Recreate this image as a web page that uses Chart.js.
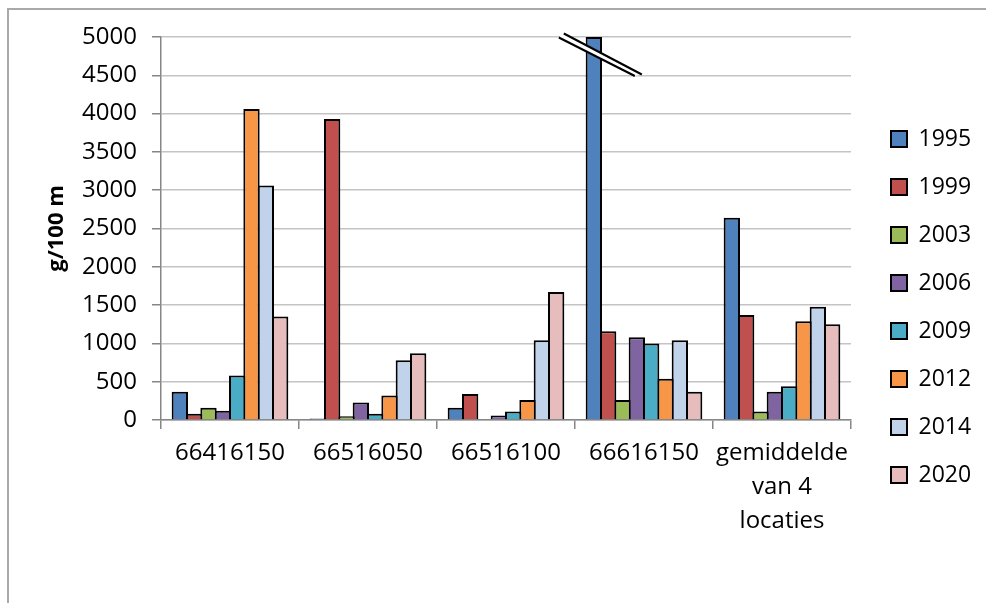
<!DOCTYPE html>
<html>
<head>
<meta charset="utf-8">
<script src="https://cdn.jsdelivr.net/npm/chart.js@4.4.1/dist/chart.umd.min.js"></script>
<style>
  html, body { margin: 0; padding: 0; background: #fff; overflow: hidden; }
  #frame { position: absolute; left: 7px; top: 8px; width: 1200px; height: 900px;
           border-left: 2px solid #a9a9a9; border-top: 2px solid #a9a9a9; }
  #wrap { position: absolute; left: 0; top: 0; width: 986px; height: 603px; }
</style>
</head>
<body>
<div id="frame"></div>
<div id="wrap"><canvas id="c" width="986" height="603"></canvas></div>
<script>
// Sampling locations (last one is the average of the four)
const locaties = ['66416150', '66516050', '66516100', '66616150', ['gemiddelde', 'van 4', 'locaties']];
const jaren = ['1995', '1999', '2003', '2006', '2009', '2012', '2014', '2020'];

// g/100 m per year and location (66616150 in 1995 runs off the axis: drawn broken at 5000)
const v1995 = [370, 20, 160, 5000, 2640];
const v1999 = [80, 3930, 340, 1160, 1370];
const v2003 = [160, 50, 10, 260, 110];
const v2006 = [120, 230, 60, 1080, 370];
const v2009 = [580, 80, 110, 1000, 440];
const v2012 = [4060, 320, 260, 540, 1290];
const v2014 = [3060, 780, 1040, 1040, 1480];
const v2020 = [1350, 870, 1670, 370, 1250];

const yTicks = [0, 500, 1000, 1500, 2000, 2500, 3000, 3500, 4000, 4500, 5000];

const reeksen = [v1995, v1999, v2003, v2006, v2009, v2012, v2014, v2020];
const kleuren = ['#4F81BD', '#C0504D', '#9BBB59', '#8064A2', '#4BACC6', '#F79646', '#C0D3EA', '#E6BCBC'];

const FONT = "'Open Sans', 'Liberation Sans', sans-serif";

// Break symbol across the bar that exceeds the axis maximum
const breakMark = {
  id: 'breakMark',
  afterDatasetsDraw(chart) {
    const el = chart.getDatasetMeta(0).data[3];
    const top = chart.chartArea.top;
    const cx = el.x;
    const ctx = chart.ctx;
    const a1 = [cx - 35, top + 0.5], a2 = [cx + 41, top + 39];
    const b1 = [cx - 30, top - 3.5], b2 = [cx + 48, top + 37.5];
    ctx.save();
    ctx.beginPath();
    ctx.moveTo(a1[0], a1[1]); ctx.lineTo(a2[0], a2[1]);
    ctx.lineTo(b2[0], b2[1]); ctx.lineTo(b1[0], b1[1]);
    ctx.closePath();
    ctx.fillStyle = '#fff';
    ctx.fill();
    ctx.strokeStyle = '#000';
    ctx.lineWidth = 2;
    ctx.beginPath(); ctx.moveTo(a1[0], a1[1]); ctx.lineTo(a2[0], a2[1]); ctx.stroke();
    ctx.beginPath(); ctx.moveTo(b1[0], b1[1]); ctx.lineTo(b2[0], b2[1]); ctx.stroke();
    ctx.restore();
  }
};

// Legend column: fixed width to the right of the plot, items placed in the right-hand margin
const legendPlace = {
  id: 'legendPlace',
  beforeLayout(chart) {
    const lg = chart.legend;
    if (lg && !lg._fixedFit) {
      const fit = lg.fit;
      lg.fit = function () { fit.call(this); this.width = 135; };
      lg._fixedFit = true;
    }
  },
  afterLayout(chart) {
    const lg = chart.legend;
    if (!lg || !lg.columnSizes || !lg.columnSizes.length) return;
    const pad = lg.options.labels.padding;
    const dx = (891 - pad) - lg.left;
    lg.left += dx; lg.right += dx;
    const itemH = Math.max(lg.options.labels.font.size, lg.options.labels.boxHeight);
    const firstTop = (lg.top + pad + lg.bottom - lg.columnSizes[0].height) / 2;
    const dy = (139 - itemH / 2) - firstTop;
    lg.top += dy; lg.bottom += dy;
  }
};

function draw() {
  new Chart(document.getElementById('c'), {
    type: 'bar',
    data: {
      labels: locaties,
      datasets: jaren.map((j, i) => ({
        label: j,
        data: reeksen[i],
        backgroundColor: kleuren[i],
        borderColor: '#000',
        borderWidth: 2,
        categoryPercentage: 0.831,
        barPercentage: 1.139
      }))
    },
    options: {
      responsive: false,
      animation: false,
      layout: { padding: { left: 7, top: 37, right: 0, bottom: 0 } },
      plugins: {
        legend: {
          position: 'right',
          align: 'center',
          labels: {
            boxWidth: 16, boxHeight: 16, padding: 25, color: '#000',
            font: { family: FONT, size: 23 }
          }
        },
        tooltip: { enabled: false }
      },
      scales: {
        x: {
          grid: { offset: true, drawOnChartArea: false, drawTicks: true, tickLength: 9,
                  color: '#868686', lineWidth: 1.5 },
          border: { color: '#868686', width: 1.5 },
          ticks: { color: '#000', padding: 7, maxRotation: 0, autoSkip: false,
                   font: { family: FONT, size: 24, lineHeight: 1.42 } },
          afterFit(s) { s.height = 183; }
        },
        y: {
          min: 0, max: 5000,
          afterBuildTicks(s) { s.ticks = yTicks.map(v => ({ value: v })); },
          ticks: { color: '#000', padding: 15, font: { family: FONT, size: 24 },
                   callback: v => String(v) },
          grid: { color: '#c4c4c4', lineWidth: 1.5, tickColor: '#868686', tickLength: 9 },
          border: { color: '#868686', width: 1.5 },
          title: { display: true, text: 'g/100 m', color: '#000',
                   font: { family: FONT, size: 22, weight: 'bold' },
                   padding: { top: 37, bottom: 0 } },
          afterFit(s) { s.width = 154; }
        }
      }
    },
    plugins: [legendPlace, breakMark]
  });
}

if (document.fonts && document.fonts.load) {
  Promise.all([
    document.fonts.load("24px 'Open Sans'"),
    document.fonts.load("bold 22px 'Open Sans'")
  ]).then(draw, draw);
} else {
  draw();
}
</script>
</body>
</html>
